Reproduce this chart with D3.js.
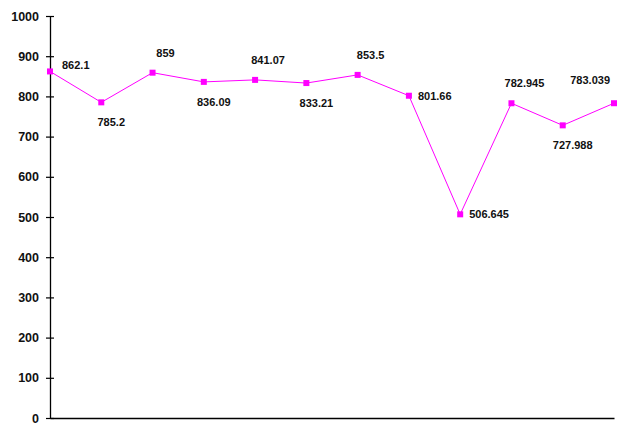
<!DOCTYPE html>
<html><head><meta charset="utf-8">
<script src="https://cdn.jsdelivr.net/npm/d3@7"></script>
<style>
html,body{margin:0;padding:0;background:#fff;}
svg{display:block;font-family:"Liberation Sans",Arial,sans-serif;}
</style></head>
<body>
<svg id="chart" width="621" height="435"></svg>
<script>
const categories = ["1","2","3","4","5","6","7","8","9","10","11","12"];
const values = [862.1, 785.2, 859, 836.09, 841.07, 833.21, 853.5, 801.66, 506.645, 782.945, 727.988, 783.039];
const valueLabels = ["862.1","785.2","859","836.09","841.07","833.21","853.5","801.66","506.645","782.945","727.988","783.039"];
const yTicks = [0,100,200,300,400,500,600,700,800,900,1000];

const svg = d3.select("#chart");
const x = d3.scalePoint().domain(categories).range([50, 614]).padding(0);
const y = d3.scaleLinear().domain([0, 1000]).range([418, 16]);

// y axis
const yAxis = d3.axisLeft(y).tickValues(yTicks).tickSize(0).tickPadding(11).tickFormat(d3.format("d"));
const gy = svg.append("g").attr("transform","translate(50,0)").call(yAxis);
gy.select(".domain").attr("stroke","#000").attr("stroke-width",1.3);
gy.selectAll(".tick text").attr("font-size",12.5).attr("font-weight","bold").attr("fill","#111")
  .attr("font-family","Liberation Sans, Arial, sans-serif");
gy.selectAll(".tick").append("line").attr("x1",-4).attr("x2",4).attr("stroke","#000").attr("stroke-width",1.2);

// x axis
const xAxis = d3.axisBottom(x).tickSize(0).tickFormat("");
const gx = svg.append("g").attr("transform","translate(0,418)").call(xAxis);
gx.select(".domain").attr("stroke","#000").attr("stroke-width",1.3);

const data = categories.map((c,i)=>({c, v: values[i], label: valueLabels[i], i}));

// line
svg.append("path").datum(data)
  .attr("fill","none").attr("stroke","#ff00ff").attr("stroke-width",1)
  .attr("d", d3.line().x(d=>x(d.c)).y(d=>y(d.v)));

// markers
svg.selectAll("rect.m").data(data).enter().append("rect")
  .attr("x", d=>x(d.c)-3).attr("y", d=>y(d.v)-3).attr("width",6).attr("height",6)
  .attr("fill","#ff00ff");

// labels: local max -> above, shallow local min -> below, otherwise right
const minV = d3.min(values);
function placement(i){
  const v = values[i], p = values[i-1], n = values[i+1];
  if (i === 0) return "first";
  if (i === values.length-1) return "last";
  if (v > p && v > n) return "above";
  if (v < p && v < n && v !== minV) return "below";
  return "right";
}
const lab = svg.selectAll("text.lab").data(data).enter().append("text")
  .attr("font-size",11).attr("font-weight","bold").attr("fill","#111")
  .text(d=>d.label);
lab.each(function(d){
  const t = d3.select(this), px = x(d.c), py = y(d.v), pl = placement(d.i);
  if (pl === "above") t.attr("x", px+13).attr("y", py-20+4).attr("text-anchor","middle");
  else if (pl === "below") t.attr("x", px+10).attr("y", py+20+4).attr("text-anchor","middle");
  else if (pl === "right") t.attr("x", px+9).attr("y", py+4).attr("text-anchor","start");
  else if (pl === "first") t.attr("x", px+12).attr("y", py-6+4).attr("text-anchor","start");
  else t.attr("x", px-4).attr("y", py-23+4).attr("text-anchor","end");
});
</script>
</body></html>
